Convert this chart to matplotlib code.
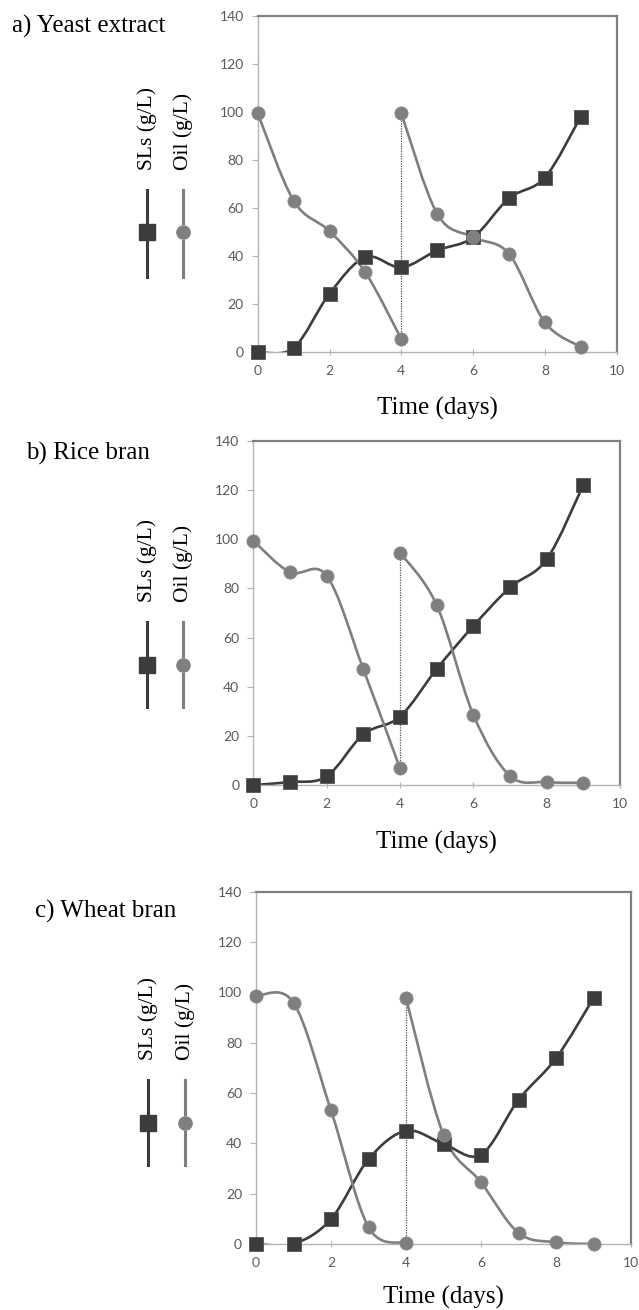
import numpy as np
import matplotlib
matplotlib.use("Agg")
from matplotlib import pyplot as plt
from matplotlib.path import Path
from matplotlib.patches import PathPatch
from matplotlib.lines import Line2D

# --- data -------------------------------------------------------------
days = [0, 1, 2, 3, 4, 5, 6, 7, 8, 9]
days_first = [0, 1, 2, 3, 4]
days_second = [4, 5, 6, 7, 8, 9]

titles = ["a) Yeast extract", "b) Rice bran", "c) Wheat bran"]

sls_yeast = [0, 1.7, 24.3, 39.5, 35.2, 42.3, 47.7, 64.0, 72.6, 98.0]
oil1_yeast = [99.4, 63.0, 50.3, 33.1, 5.4]
oil2_yeast = [99.4, 57.5, 47.8, 40.9, 12.3, 2.1]

sls_rice = [0, 1.2, 3.5, 20.6, 27.8, 47.2, 64.7, 80.4, 91.8, 122.1]
oil1_rice = [99.4, 86.6, 85.2, 47.2, 6.8]
oil2_rice = [94.6, 73.3, 28.6, 3.7, 1.2, 0.9]

sls_wheat = [0, 0, 9.9, 33.7, 45.0, 39.8, 35.5, 57.3, 73.8, 97.7]
oil1_wheat = [98.6, 95.9, 53.1, 6.7, 0.4]
oil2_wheat = [97.7, 43.4, 24.5, 4.4, 0.7, 0.0]

x_ticks = [0, 2, 4, 6, 8, 10]
y_ticks = [0, 20, 40, 60, 80, 100, 120, 140]

# --- style ------------------------------------------------------------
W, H = 639, 1310
SLS_COLOR = "#3c3c3c"
OIL_COLOR = "#7f7f7f"
SERIF = "Liberation Serif"
TICK_FONT = "Lato"


def smooth_path(x, y):
    """Excel-like smoothed line: cubic bezier through the points."""
    x = np.asarray(x, float)
    y = np.asarray(y, float)
    pts = np.column_stack([x, y])
    n = len(pts)
    verts = [pts[0]]
    codes = [Path.MOVETO]
    for i in range(n - 1):
        p0 = pts[i - 1] if i > 0 else pts[i]
        p1 = pts[i]
        p2 = pts[i + 1]
        p3 = pts[i + 2] if i + 2 < n else pts[i + 1]
        c1 = p1 + (p2 - p0) / 6.0
        c2 = p2 - (p3 - p1) / 6.0
        verts += [c1, c2, p2]
        codes += [Path.CURVE4] * 3
    return Path(verts, codes)


def add_curve(ax, x, y, color, zorder):
    patch = PathPatch(smooth_path(x, y), facecolor="none", edgecolor=color,
                      lw=1.9, zorder=zorder, capstyle="round")
    ax.add_patch(patch)


def panel(box, sls, oil1, oil2, title, title_xy, legend_x, legend_y,
          xlabel_y):
    l, t, r, b = box
    ax = fig.add_axes([l / W, 1 - b / H, (r - l) / W, (b - t) / H])

    # dotted refeed line at day 4
    ax.vlines(days_first[-1], oil1[-1], oil2[0], colors="#555555",
              linestyles=(0, (1, 1)), lw=0.9, zorder=1)

    add_curve(ax, days, sls, SLS_COLOR, 2)
    add_curve(ax, days_first, oil1, OIL_COLOR, 2)
    add_curve(ax, days_second, oil2, OIL_COLOR, 2)

    ax.plot(days, sls, ls="none", marker="s", ms=9.5, color=SLS_COLOR,
            mec="#555555", mew=0.6, zorder=3, clip_on=False)
    ax.plot(days_first, oil1, ls="none", marker="o", ms=9.5,
            color=OIL_COLOR, mec="#8c8c8c", mew=0.6, zorder=4,
            clip_on=False)
    ax.plot(days_second, oil2, ls="none", marker="o", ms=9.5,
            color=OIL_COLOR, mec="#8c8c8c", mew=0.6, zorder=4,
            clip_on=False)

    ax.set_xlim(0, 10)
    ax.set_ylim(0, 140)
    ax.set_xticks(x_ticks)
    ax.set_yticks(y_ticks)

    for side in ["top", "right"]:
        ax.spines[side].set_color("#808080")
        ax.spines[side].set_linewidth(1.6)
    for side in ["left", "bottom"]:
        ax.spines[side].set_color("#b3b3b3")
        ax.spines[side].set_linewidth(1.0)

    ax.tick_params(axis="y", direction="out", length=4, width=0.8,
                   color="#b3b3b3", pad=6, labelsize=10,
                   labelcolor="#595959")
    ax.tick_params(axis="x", direction="inout", length=5, width=0.8,
                   color="#b3b3b3", pad=7, labelsize=10,
                   labelcolor="#595959")
    for lab in ax.get_xticklabels() + ax.get_yticklabels():
        lab.set_fontfamily(TICK_FONT)

    fig.text((l + r) / 2 / W, 1 - xlabel_y / H, "Time (days)",
             family=SERIF, fontsize=18, ha="center", va="center")

    fig.text(title_xy[0] / W, 1 - title_xy[1] / H, title, family=SERIF,
             fontsize=18, ha="left", va="center")

    # vertical legend: rotated label, line, marker, line
    entries = [("SLs (g/L)", SLS_COLOR, "s", legend_x[0], 11),
               ("Oil (g/L)", OIL_COLOR, "o", legend_x[1], 9.5)]
    text_bottom, seg_top, mid, seg_bot = legend_y
    for label, color, marker, lx, ms in entries:
        fig.text(lx / W, 1 - text_bottom / H, label, family=SERIF,
                 fontsize=15.5, rotation=90, ha="center", va="bottom")
        fig.add_artist(Line2D([lx / W, lx / W],
                              [1 - seg_top / H, 1 - (mid - 9) / H],
                              color=color, lw=2.2,
                              transform=fig.transFigure))
        fig.add_artist(Line2D([lx / W, lx / W],
                              [1 - (mid + 9) / H, 1 - seg_bot / H],
                              color=color, lw=2.2,
                              transform=fig.transFigure))
        fig.add_artist(Line2D([lx / W], [1 - mid / H], color=color,
                              marker=marker, ms=ms, ls="none",
                              transform=fig.transFigure))
    return ax


fig = plt.figure(figsize=(W / 100, H / 100), dpi=100)

panel((257.7, 15.7, 616.7, 352), sls_yeast, oil1_yeast, oil2_yeast,
      titles[0], (12, 26), (147, 183), (170, 190, 232, 277), 408)
panel((253.3, 441, 620, 785), sls_rice, oil1_rice, oil2_rice,
      titles[1], (26, 453), (147, 183), (602, 622, 665, 707), 842)
panel((256, 891.7, 631, 1244), sls_wheat, oil1_wheat, oil2_wheat,
      titles[2], (35, 911), (148, 185), (1060, 1080, 1123, 1165), 1297)

fig.savefig("out.png", dpi=100)
plt.close("all")
